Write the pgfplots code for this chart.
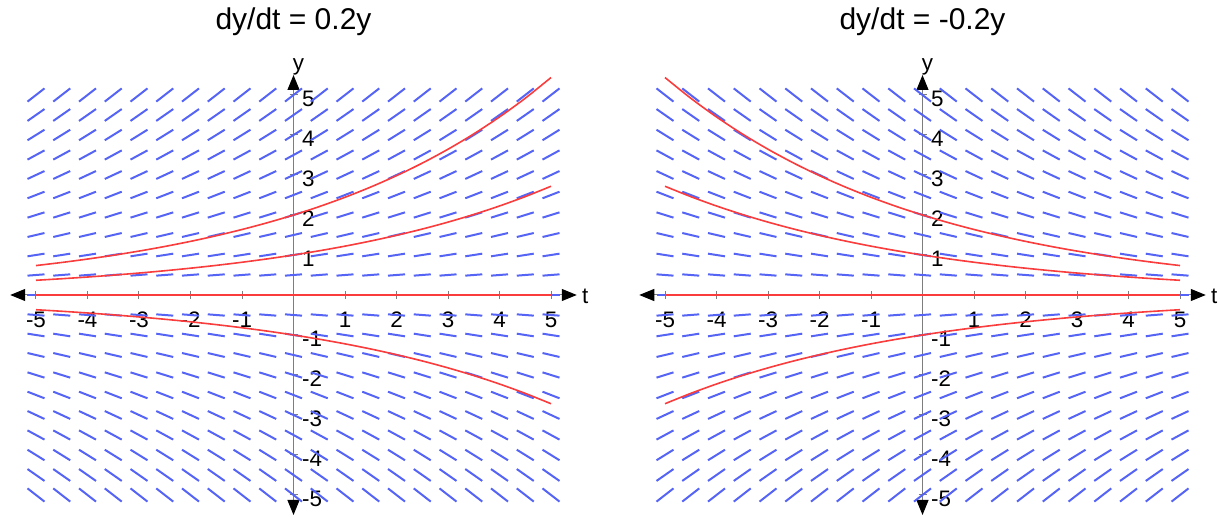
\documentclass[border=0pt]{standalone}
\usepackage{pgfplots}
\pgfplotsset{compat=1.18}
\usepackage{pgfplotstable}
\usepackage{fontspec}
\setmainfont{Liberation Sans}
\usetikzlibrary{arrows.meta}
\definecolor{fieldblue}{RGB}{85,100,245}
\definecolor{curvered}{RGB}{250,60,60}
\definecolor{axisgray}{RGB}{125,125,125}

% rows of the slope field: start y and vertical rise of a segment (dt = 0.33)
\pgfplotstableread{
y0 dv
-4.835 -0.330
-4.3515 -0.297
-3.868 -0.264
-3.3845 -0.231
-2.901 -0.198
-2.4175 -0.165
-1.934 -0.132
-1.4505 -0.099
-0.967 -0.066
-0.4835 -0.033
0 0
0.4835 0.033
0.967 0.066
1.4505 0.099
1.934 0.132
2.4175 0.165
2.901 0.198
3.3845 0.231
3.868 0.264
4.3515 0.297
4.835 0.330
}\rowsL
\pgfplotstableread{
y0 dv
-5.165 0.330
-4.6485 0.297
-4.132 0.264
-3.6155 0.231
-3.099 0.198
-2.5825 0.165
-2.066 0.132
-1.5495 0.099
-1.033 0.066
-0.5165 0.033
0 0
0.5165 -0.033
1.033 -0.066
1.5495 -0.099
2.066 -0.132
2.5825 -0.165
3.099 -0.198
3.6155 -0.231
4.132 -0.264
4.6485 -0.297
5.165 -0.330
}\rowsR

\newcommand\tickfont{\fontsize{11.2}{13}\selectfont}
\pgfplotsset{
  sfaxis/.style={
    scale only axis, width=283.25pt, height=220pt,
    xmin=-5.5, xmax=5.5, ymin=-5.5, ymax=5.5,
    anchor=origin, clip=false,
    axis lines=middle,
    axis line style={draw=axisgray, line width=0.5pt,
      {Triangle[width=6pt,length=7.5pt,color=black]}-{Triangle[width=6pt,length=7.5pt,color=black]}},
    major tick length=4pt, tick align=center,
    tick style={draw=axisgray, line width=0.5pt},
    xtick={-5,-4,-3,-2,-1,1,2,3,4,5},
    xticklabels={-5,-4,-3,-2,-1,1,2,3,4,5},
    ytick={-5,-4,-3,-2,-1,1,2,3,4,5},
    yticklabels={-5,-4,-3,-2,-1,1,2,3,4,5},
    tick label style={font=\tickfont},
    xticklabel style={anchor=base, yshift=-14.5pt},
    yticklabel style={anchor=west, xshift=2.8pt, yshift=-1.75pt},
  },
  field/.style={fieldblue, line width=1pt},
  sol/.style={curvered, line width=0.8pt, smooth},
}

\begin{document}
\begin{tikzpicture}
\useasboundingbox (0,0) rectangle (610pt,-258.5pt);

\node[anchor=base, font=\fontsize{15}{18}\selectfont] at (146.75pt,-15pt) {dy/dt = 0.2y};
\node[anchor=base, font=\fontsize{15}{18}\selectfont] at (461.25pt,-15pt) {dy/dt = -0.2y};

% ---------- left panel ----------
\begin{axis}[sfaxis, at={(146.75pt,-147.5pt)}]
\pgfplotsinvokeforeach{-5,-4.5,-4,-3.5,-3,-2.5,-2,-1.5,-1,-0.5,0,0.5,1,1.5,2,2.5,3,3.5,4,4.5,5}{
  \addplot[field, quiver={u=0.33, v=\thisrow{dv}}] table[x expr=#1-0.165, y=y0] {\rowsL};
}
\addplot[sol] coordinates {(-5,0.7358)(-4.5,0.8131)(-4,0.8987)(-3.5,0.9932)(-3,1.0976)(-2.5,1.2131)(-2,1.3406)(-1.5,1.4816)(-1,1.6375)(-0.5,1.8097)(0,2)(0.5,2.2103)(1,2.4428)(1.5,2.6997)(2,2.9836)(2.5,3.2974)(3,3.6442)(3.5,4.0275)(4,4.4511)(4.5,4.9192)(5,5.4366)};
\addplot[sol] coordinates {(-5,0.3679)(-4.5,0.4066)(-4,0.4493)(-3.5,0.4966)(-3,0.5488)(-2.5,0.6065)(-2,0.6703)(-1.5,0.7408)(-1,0.8187)(-0.5,0.9048)(0,1)(0.5,1.1052)(1,1.2214)(1.5,1.3499)(2,1.4918)(2.5,1.6487)(3,1.8221)(3.5,2.0138)(4,2.2255)(4.5,2.4596)(5,2.7183)};
\addplot[sol] coordinates {(-5,0)(5,0)};
\addplot[sol] coordinates {(-5,-0.3679)(-4.5,-0.4066)(-4,-0.4493)(-3.5,-0.4966)(-3,-0.5488)(-2.5,-0.6065)(-2,-0.6703)(-1.5,-0.7408)(-1,-0.8187)(-0.5,-0.9048)(0,-1)(0.5,-1.1052)(1,-1.2214)(1.5,-1.3499)(2,-1.4918)(2.5,-1.6487)(3,-1.8221)(3.5,-2.0138)(4,-2.2255)(4.5,-2.4596)(5,-2.7183)};
\node[anchor=base west, inner sep=0pt, font=\tickfont, xshift=2.5pt, yshift=-4.5pt] at (axis cs:5.5,0) {t};
\node[anchor=base, inner sep=0pt, font=\tickfont, xshift=2.5pt, yshift=2pt] at (axis cs:0,5.5) {y};
\end{axis}

% ---------- right panel ----------
\begin{axis}[sfaxis, at={(461.25pt,-147.5pt)}]
\pgfplotsinvokeforeach{-5,-4.5,-4,-3.5,-3,-2.5,-2,-1.5,-1,-0.5,0,0.5,1,1.5,2,2.5,3,3.5,4,4.5,5}{
  \addplot[field, quiver={u=0.33, v=\thisrow{dv}}] table[x expr=#1-0.165, y=y0] {\rowsR};
}
\addplot[sol] coordinates {(-5,5.4366)(-4.5,4.9192)(-4,4.4511)(-3.5,4.0275)(-3,3.6442)(-2.5,3.2974)(-2,2.9836)(-1.5,2.6997)(-1,2.4428)(-0.5,2.2103)(0,2)(0.5,1.8097)(1,1.6375)(1.5,1.4816)(2,1.3406)(2.5,1.2131)(3,1.0976)(3.5,0.9932)(4,0.8987)(4.5,0.8131)(5,0.7358)};
\addplot[sol] coordinates {(-5,2.7183)(-4.5,2.4596)(-4,2.2255)(-3.5,2.0138)(-3,1.8221)(-2.5,1.6487)(-2,1.4918)(-1.5,1.3499)(-1,1.2214)(-0.5,1.1052)(0,1)(0.5,0.9048)(1,0.8187)(1.5,0.7408)(2,0.6703)(2.5,0.6065)(3,0.5488)(3.5,0.4966)(4,0.4493)(4.5,0.4066)(5,0.3679)};
\addplot[sol] coordinates {(-5,0)(5,0)};
\addplot[sol] coordinates {(-5,-2.7183)(-4.5,-2.4596)(-4,-2.2255)(-3.5,-2.0138)(-3,-1.8221)(-2.5,-1.6487)(-2,-1.4918)(-1.5,-1.3499)(-1,-1.2214)(-0.5,-1.1052)(0,-1)(0.5,-0.9048)(1,-0.8187)(1.5,-0.7408)(2,-0.6703)(2.5,-0.6065)(3,-0.5488)(3.5,-0.4966)(4,-0.4493)(4.5,-0.4066)(5,-0.3679)};
\node[anchor=base west, inner sep=0pt, font=\tickfont, xshift=2.5pt, yshift=-4.5pt] at (axis cs:5.5,0) {t};
\node[anchor=base, inner sep=0pt, font=\tickfont, xshift=2.5pt, yshift=2pt] at (axis cs:0,5.5) {y};
\end{axis}
\end{tikzpicture}
\end{document}
